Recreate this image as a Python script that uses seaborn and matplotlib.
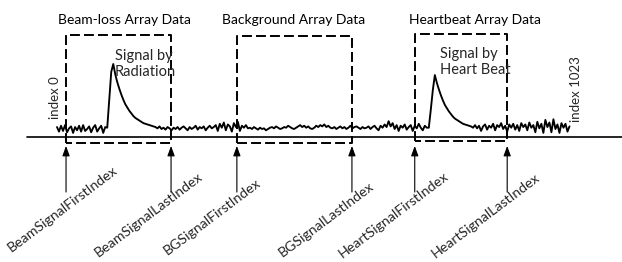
import matplotlib
matplotlib.use("Agg")
import matplotlib.pyplot as plt
import seaborn as sns
import numpy as np
import pandas as pd

# signal trace, one value every 4 samples (index 0 .. 1023)
sample_step = 4
trace = [
    0.03, -0.04, 0.05, -0.03, 0.06, -0.05, 0.01, 0.04, -0.06, 0.03, -0.02, 0.05, -0.04, 0.06, -0.03, 0.00,
    0.04, -0.05, 0.02, 0.06, -0.04, 0.01, 0.05, -0.06, 0.03,
    # beam-loss pulse
    0.02, 0.45, 0.88, 1.00, 0.84, 0.72, 0.62, 0.53, 0.45, 0.38, 0.33, 0.28, 0.24, 0.20, 0.17, 0.15,
    0.13, 0.11, 0.09, 0.08, 0.07, 0.06, 0.05, 0.04,
    0.03, 0.01, 0.04, 0.00, 0.02, -0.01, 0.03, 0.01, -0.02, 0.02, 0.00, 0.03, -0.01, 0.02, 0.04, 0.01,
    -0.02, 0.03, 0.00, 0.02, 0.05, -0.01, 0.03, 0.01, 0.04, -0.02, 0.02, 0.05, 0.01, 0.03,
    0.06, -0.03, 0.08, 0.02, 0.10, -0.02, 0.07, 0.04, -0.04, 0.09, 0.03, 0.11, -0.03,
    0.05, 0.02, 0.06, 0.01,
    0.02, 0.00, 0.03, 0.01, -0.01, 0.02, 0.00, 0.01, -0.02, 0.00, 0.02, 0.03, 0.01, 0.04, 0.02, 0.00,
    0.01, 0.03, 0.02, 0.05, 0.03, 0.01, 0.00, 0.02, 0.04, 0.06, 0.03, 0.05, 0.02, 0.04, 0.01, 0.00,
    0.02, 0.05, 0.03, 0.06, 0.04, 0.07, 0.03, 0.05, 0.02, 0.01, 0.03, 0.00, 0.02, 0.04, 0.01, 0.03,
    0.00, 0.02, 0.05, 0.01, 0.03, 0.04, 0.02, 0.00, 0.03, 0.01, 0.02, 0.04, 0.00, 0.03, 0.05, 0.01,
    -0.02, 0.05, 0.02, 0.07, 0.03, 0.12, 0.04, 0.09, 0.00, 0.06, -0.03, 0.05, 0.02, 0.07, -0.01, 0.03,
    0.06, -0.03, 0.05, 0.01, 0.08, 0.02, -0.02, 0.05, 0.02,
    # heartbeat pulse
    0.02, 0.30, 0.60, 0.83, 0.71, 0.61, 0.52, 0.44, 0.37, 0.32, 0.27, 0.23, 0.19, 0.16, 0.14, 0.12,
    0.10, 0.08, 0.07, 0.06, 0.05, 0.04,
    0.02, 0.06, 0.01, 0.05, -0.03, 0.04, 0.07, -0.01, 0.05, 0.02, 0.08, -0.02, 0.06, 0.03, 0.09, 0.00,
    0.05, -0.04, 0.07, 0.02, 0.08, -0.01, 0.06, -0.03, 0.09, 0.03, 0.07, -0.02, 0.10, 0.02, 0.06, -0.05,
    0.11, 0.01, 0.08, -0.06, 0.14, 0.03, 0.10, -0.05, 0.15, 0.00, 0.07, -0.06, 0.09, 0.02, 0.08, -0.04,
    0.04,
]

# array windows (first / last index)
windows = ["Beam-loss Array Data", "Background Array Data", "Heartbeat Array Data"]
first_index = [18, 358, 712]
last_index = [227, 587, 896]
box_top = [1.45, 1.43, 1.46]
box_bottom = [-0.215, -0.215, -0.185]
title_x = [135, 470, 832]

markers = ["BeamSignalFirstIndex", "BeamSignalLastIndex", "BGSignalFirstIndex",
           "BGSignalLastIndex", "HeartSignalFirstIndex", "HeartSignalLastIndex"]
marker_index = [18, 227, 358, 587, 712, 896]
# label centre offset from arrow tail, in pixels (right, down)
label_offset = [(-3, 17), (-22, 23), (-25, 25), (-26, 27), (-21, 23), (-21, 24)]

df = pd.DataFrame({"index": np.arange(len(trace)) * sample_step, "value": trace})

sns.set_theme(style="white")
plt.rcParams["font.family"] = ["Lato", "DejaVu Sans"]

fig = plt.figure(figsize=(6.22, 2.62), dpi=100)
ax = fig.add_axes([0, 0, 1, 1])

px_per_idx = 0.5025
px_per_unit = 65.0
ax.set_xlim(-57 / px_per_idx, 1023 + 51 / px_per_idx)
ax.set_ylim(-133 / px_per_unit, 129 / px_per_unit)
ax.axis("off")

sns.lineplot(data=df, x="index", y="value", color="black", lw=1.35, ax=ax)

# time axis
ax.plot([-60, 1200], [-0.123, -0.123], color="black", lw=1.2)

dash = (0, (5.1, 2.1))
for name, a, b, top, bot, tx in zip(windows, first_index, last_index, box_top, box_bottom, title_x):
    ax.plot([a, a, b, b, a], [bot, top, top, bot, bot], color="black", lw=1.4, linestyle=dash)
    ax.text(tx, 1.677, name, ha="center", va="center", fontsize=10, color="black")

ax.text(115, 1.0, "Signal by\nRadiation", ha="left", va="center", fontsize=10.5, linespacing=1.25)
ax.text(762, 1.03, "Signal by\nHeart Beat", ha="left", va="center", fontsize=10.5, linespacing=1.25)

ax.text(-4, 0.48, "index 0", rotation=90, ha="center", va="center", fontsize=9.5)
ax.text(1033, 0.615, "index 1023", rotation=90, ha="center", va="center", fontsize=9.5)

tail_y = -0.97
head_y = -0.26
for name, idx, (dx, dy) in zip(markers, marker_index, label_offset):
    ax.annotate("", xy=(idx, head_y), xytext=(idx, tail_y),
                arrowprops=dict(arrowstyle="-|>,head_length=0.6,head_width=0.22",
                                color="black", lw=0.8, mutation_scale=10,
                                shrinkA=0, shrinkB=0))
    ax.text(idx + dx / px_per_idx, tail_y - dy / px_per_unit, name, rotation=37,
            rotation_mode="anchor", ha="center", va="center", fontsize=10.2)

fig.savefig("out.png", dpi=100)
